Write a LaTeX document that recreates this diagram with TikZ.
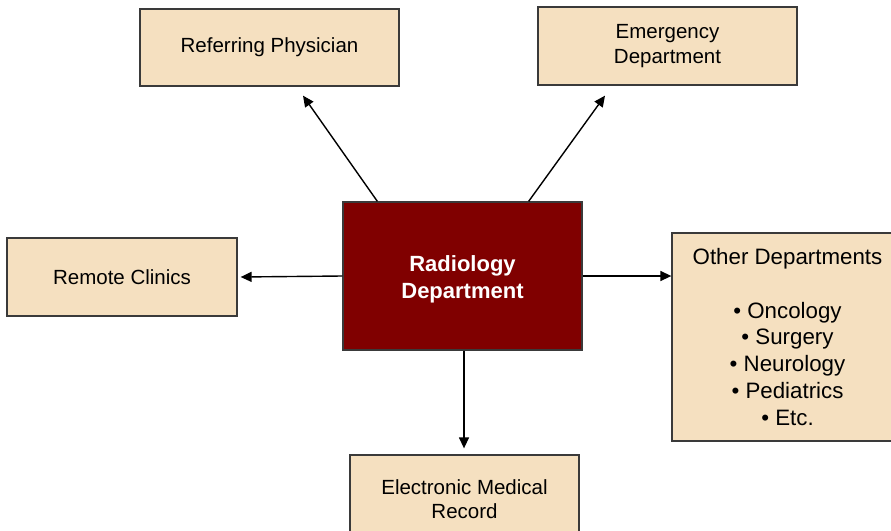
\documentclass[tikz,border=0pt]{standalone}
\usepackage{fontspec}
\setmainfont{Liberation Sans}
\usetikzlibrary{arrows.meta}
\definecolor{boxfill}{HTML}{F5E0C0}
\definecolor{boxline}{HTML}{3A3A3A}
\definecolor{radred}{HTML}{800000}
\begin{document}
\begin{tikzpicture}[x=1pt,y=-1pt,
  infobox/.style={draw=boxline, line width=1.3pt, fill=boxfill, align=center,
    font=\fontsize{20.5}{24.5}\selectfont, inner sep=0pt},
  hubbox/.style={draw=boxline, line width=1.3pt, fill=radred, inner sep=0pt,
    minimum width=239pt, minimum height=148pt},
  hubtext/.style={text=white, align=center, inner sep=0pt,
    font=\fontsize{22}{27}\selectfont\bfseries},
  link/.style={line width=1.4pt, -{Triangle[length=11pt,width=10pt]}}]
\useasboundingbox (0,0) rectangle (891,530);

% outer boxes
\node[infobox, minimum width=259pt, minimum height=77pt] (ref) at (269.5,47.5) {Referring Physician};
\node[infobox, minimum width=259pt, minimum height=78pt] (er) at (667.5,46) {Emergency\\Department};
\node[infobox, minimum width=230pt, minimum height=78pt] (remote) at (122,277) {Remote Clinics};
\node[infobox, minimum width=231pt, minimum height=208pt, font=\fontsize{22.3}{26.7}\selectfont] (other) at (787.5,337)
  {Other Departments\\[26.7pt]• Oncology\\• Surgery\\• Neurology\\• Pediatrics\\• Etc.};
\node[infobox, minimum width=229pt, minimum height=88pt] (emr) at (464.5,499) {Electronic Medical\\Record};

% central department
\node[hubbox] (rad) at (462.5,276) {};
\node[hubtext] (radtext) at ([yshift=-3pt]rad.center) {Radiology\\Department};

% arrow ends just short of the outer boxes
\coordinate (refend) at ([xshift=33.5pt,yshift=-9pt]ref.south);
\coordinate (erend) at ([xshift=-62.5pt,yshift=-10pt]er.south);

\draw[link] ([xshift=35pt]rad.north west) -- (refend);
\draw[link] ([xshift=-54pt]rad.north east) -- (erend);
\draw[link] (rad.west) -- ([xshift=3pt]remote.east);
\draw[link] (rad.east) -- (other.west |- rad.east);
\draw[link] ([xshift=1.5pt]rad.south) -- ([xshift=-0.5pt,yshift=6pt]emr.north);
\end{tikzpicture}
\end{document}
